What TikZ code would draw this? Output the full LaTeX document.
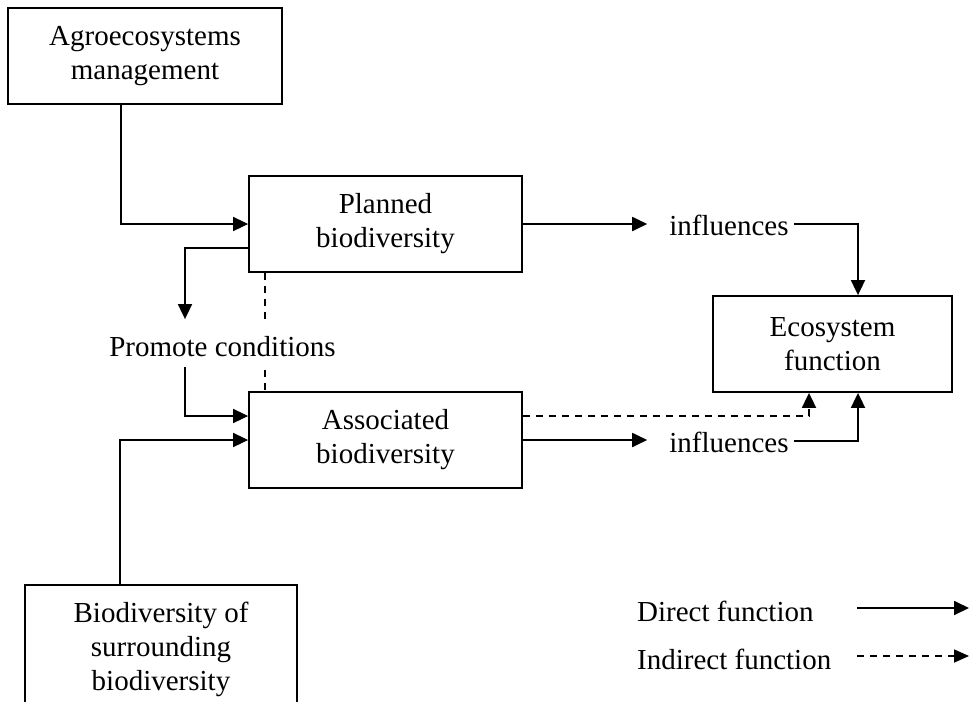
\documentclass[tikz,border=0pt]{standalone}
\usepackage{fontspec}
\setmainfont{Liberation Serif}
\usetikzlibrary{arrows.meta,calc}
\begin{document}
\begin{tikzpicture}[x=1pt,y=-1pt,
  font=\fontsize{29}{34}\selectfont,
  box/.style={draw, line width=1.8pt, align=center, inner sep=0pt},
  lbl/.style={inner sep=0pt},
  link/.style={line width=1.8pt},
  arr/.style={link, -{Triangle[length=15pt,width=14pt]}},
  dsh/.style={link, dash pattern=on 7pt off 6pt},
]
\clip (0,0) rectangle (978,702);

% boxes
\node[box, minimum width=274pt, minimum height=96pt] (agro) at (145,56) {Agroecosystems\\management};
\node[box, minimum width=273pt, minimum height=96pt] (planned) at (385.5,224) {Planned\\biodiversity};
\node[box, minimum width=273pt, minimum height=96pt] (assoc) at (385.5,440) {Associated\\biodiversity};
\node[box, minimum width=239pt, minimum height=96pt] (eco) at (832.5,344) {Ecosystem\\function};
\node[box, minimum width=272pt, inner ysep=17pt, anchor=north] (surround) at (161,584) {Biodiversity of\\surrounding\\biodiversity};

% free labels
\node[lbl] (promote) at (222.5,346.5) {Promote conditions};
\node[lbl] (infl1) at (729,225) {influences};
\node[lbl] (infl2) at (729,442) {influences};

% legend
\node[lbl, anchor=west] (direct) at (637,611) {Direct function};
\node[lbl, anchor=west] (indirect) at (637,659) {Indirect function};
\coordinate (ds) at (857,608);
\coordinate (de) at (969,608);
\coordinate (is) at (857,656);
\coordinate (ie) at (969,656);

% helper points for the dashed link, which breaks around the label
\coordinate (dtop) at ($(planned.south west)+(17,0)$);
\coordinate (dbot) at ($(assoc.north west)+(17,0)$);
\coordinate (pn) at ($(promote.north)+(0,-16)$);
\coordinate (ps) at ($(promote.south)+(0,13)$);

% connectors
\draw[arr] ($(agro.south west)+(114,0)$) |- (planned.west);
\draw[arr] ($(planned.west)+(0,24)$) -| ($(promote.north)+(-37.5,-17)$);
\draw[arr] ($(promote.south)+(-37.5,10)$) |- ($(assoc.west)+(0,-24)$);
\draw[arr] ($(surround.north west)+(96,0)$) |- (assoc.west);
\draw[dsh] (dtop) -- (dtop |- pn);
\draw[dsh] (dtop |- ps) -- (dbot);

\draw[arr] (planned.east) -- ($(planned.east -| infl1.west)+(-22,0)$);
\draw[arr] ($(infl1.east)+(5,-1)$) -| ($(eco.north)+(25.5,0)$);

\draw[dsh, -{Triangle[length=15pt,width=14pt]}] ($(assoc.east)+(0,-24)$) -| ($(eco.south)+(-23.5,0)$);
\draw[arr] (assoc.east) -- ($(assoc.east -| infl2.west)+(-22,0)$);
\draw[arr] ($(infl2.east)+(5,-1)$) -| ($(eco.south)+(25.5,0)$);

\draw[arr] (ds) -- (de);
\draw[dsh, -{Triangle[length=15pt,width=13pt]}] (is) -- (ie);
\end{tikzpicture}
\end{document}
